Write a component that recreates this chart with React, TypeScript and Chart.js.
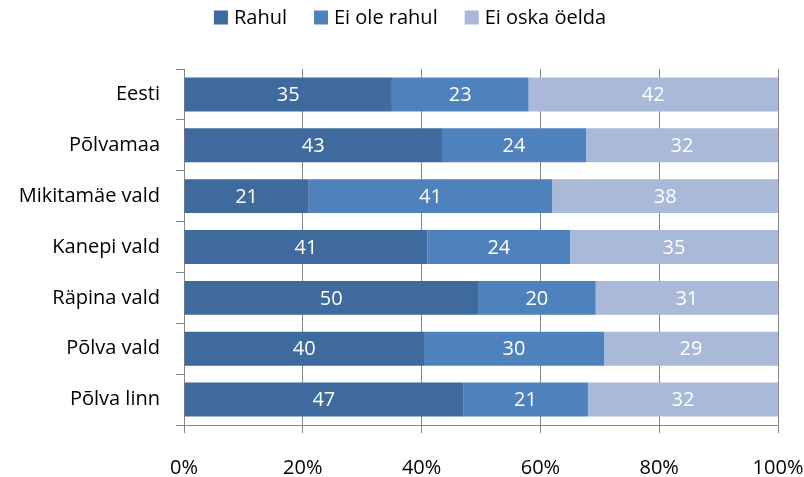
import { useEffect, useRef } from "react";
import { Chart, registerables } from "chart.js";

Chart.register(...registerables);

// Satisfaction by area, counts per answer (each row is shown as 100%)
const regions = [
  "Eesti",
  "Põlvamaa",
  "Mikitamäe vald",
  "Kanepi vald",
  "Räpina vald",
  "Põlva vald",
  "Põlva linn",
];
const seriesNames = ["Rahul", "Ei ole rahul", "Ei oska öelda"];
const rahul = [35, 43, 21, 41, 50, 40, 47];
const eiOleRahul = [23, 24, 41, 24, 20, 30, 21];
const eiOskaOelda = [42, 32, 38, 35, 31, 29, 32];
const percentTicks = [0, 20, 40, 60, 80, 100];

const seriesColors = ["#3F6A9D", "#4F81BD", "#A9B9D7"];
const FONT = "'Open Sans', sans-serif";

const rowTotals = regions.map((_, i) => rahul[i] + eiOleRahul[i] + eiOskaOelda[i]);
const toShare = (vals: number[]) => vals.map((v, i) => (v / rowTotals[i]) * 100);

// White value labels centred inside each bar segment
const segmentLabels = {
  id: "segmentLabels",
  afterDatasetsDraw(chart: any) {
    const ctx = chart.ctx;
    ctx.save();
    ctx.font = `20px ${FONT}`;
    ctx.fillStyle = "#ffffff";
    ctx.textAlign = "center";
    ctx.textBaseline = "middle";
    chart.data.datasets.forEach((ds: any, di: number) => {
      const meta = chart.getDatasetMeta(di);
      meta.data.forEach((bar: any, i: number) => {
        const cx = (bar.x + bar.base) / 2;
        ctx.fillText(String(ds.counts[i]), cx, bar.y + 1);
      });
    });
    ctx.restore();
  },
};

// Single-row legend across the top
const topLegend = {
  id: "topLegend",
  afterDraw(chart: any) {
    const ctx = chart.ctx;
    const box = 14;
    const textGap = 6;
    const itemGap = 27;
    const cy = 17.5;
    ctx.save();
    ctx.font = `20px ${FONT}`;
    ctx.textBaseline = "middle";
    ctx.textAlign = "left";
    const items = chart.data.datasets.map((ds: any) => ({
      label: ds.label as string,
      color: ds.backgroundColor as string,
      w: ctx.measureText(ds.label).width,
    }));
    const total =
      items.reduce((s: number, it: any) => s + box + textGap + it.w, 0) +
      itemGap * (items.length - 1);
    let x = (chart.width - total) / 2 + 8;
    items.forEach((it: any) => {
      ctx.fillStyle = it.color;
      ctx.fillRect(x, cy - box / 2, box, box);
      x += box + textGap;
      ctx.fillStyle = "#000000";
      ctx.fillText(it.label, x, cy + 1);
      x += it.w + itemGap;
    });
    ctx.restore();
  },
};

export default function App() {
  const canvasRef = useRef<HTMLCanvasElement | null>(null);

  useEffect(() => {
    document.body.style.margin = "0";
    const canvas = canvasRef.current;
    if (!canvas) return;

    const counts = [rahul, eiOleRahul, eiOskaOelda];
    const chart = new Chart(canvas, {
      type: "bar",
      data: {
        labels: regions,
        datasets: counts.map((vals, k) => ({
          label: seriesNames[k],
          data: toShare(vals),
          counts: vals,
          backgroundColor: seriesColors[k],
          borderWidth: 0,
          barPercentage: 0.667,
          categoryPercentage: 1,
        })) as any,
      },
      options: {
        indexAxis: "y",
        animation: false,
        responsive: true,
        maintainAspectRatio: false,
        layout: { padding: { left: 0, right: 26, top: 69, bottom: 0 } },
        plugins: {
          legend: { display: false },
          tooltip: { enabled: false },
        },
        scales: {
          x: {
            stacked: true,
            min: 0,
            max: 100,
            afterBuildTicks: (scale: any) => {
              scale.ticks = percentTicks.map((v) => ({ value: v }));
            },
            afterFit: (scale: any) => {
              scale.height = 52;
              scale.paddingLeft = 0;
              scale.paddingRight = 0;
            },
            ticks: {
              color: "#000000",
              font: { family: FONT, size: 20 },
              padding: 23,
              callback: (v: any) => `${v}%`,
            },
            grid: { color: "#868686", tickLength: 8, lineWidth: 1 },
            border: { color: "#868686", width: 1 },
          },
          y: {
            stacked: true,
            afterFit: (scale: any) => {
              scale.width = 184;
            },
            ticks: {
              color: "#000000",
              font: { family: FONT, size: 20 },
              padding: 16,
            },
            grid: {
              drawOnChartArea: false,
              drawTicks: true,
              tickLength: 8,
              color: "#868686",
            },
            border: { color: "#868686", width: 1 },
          },
        },
      },
      plugins: [segmentLabels, topLegend],
    });

    return () => chart.destroy();
  }, []);

  return (
    <div style={{ width: 804, height: 477, position: "relative" }}>
      <canvas ref={canvasRef} />
    </div>
  );
}
